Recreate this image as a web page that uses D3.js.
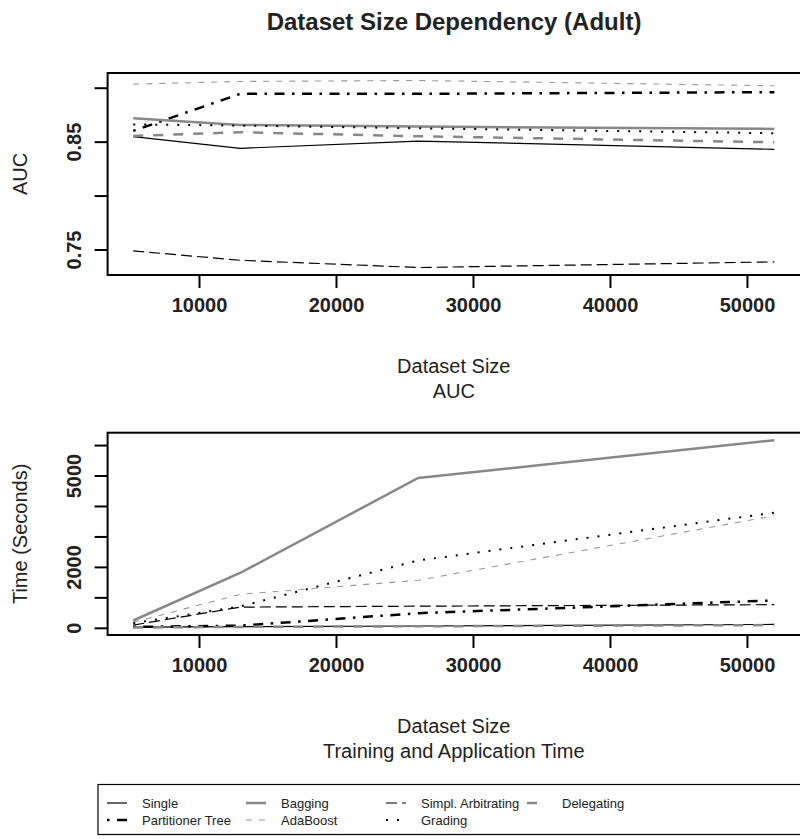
<!DOCTYPE html>
<html>
<head>
<meta charset="utf-8">
<script src="https://cdn.jsdelivr.net/npm/d3@7"></script>
<style>
  body { margin: 0; background: #fff; }
  text { font-family: "Liberation Sans", Arial, Helvetica, sans-serif; fill: #222; }
</style>
</head>
<body>
<div id="chart"></div>
<script>
// Data
let sizes = [5200, 13000, 26000, 52000];
let methods = ['Single', 'Partitioner Tree', 'Bagging', 'AdaBoost', 'Simpl. Arbitrating', 'Grading', 'Delegating'];

let aucSingle      = [0.8546, 0.8438, 0.8505, 0.8429];
let aucPartitioner = [0.8600, 0.8943, 0.8943, 0.8959];
let aucBagging     = [0.8717, 0.8655, 0.8640, 0.8618];
let aucAdaBoost    = [0.9033, 0.9058, 0.9067, 0.9018];
let aucSimpl       = [0.7487, 0.7400, 0.7333, 0.7385];
let aucGrading     = [0.8660, 0.8649, 0.8624, 0.8578];
let aucDelegating  = [0.8553, 0.8587, 0.8550, 0.8494];

let timeSingle      = [20, 40, 60, 110];
let timePartitioner = [30, 70, 480, 900];
let timeBagging     = [240, 1800, 4920, 6160];
let timeAdaBoost    = [180, 1100, 1560, 3680];
let timeSimpl       = [90, 680, 710, 760];
let timeGrading     = [150, 700, 2210, 3780];
let timeDelegating  = [10, 30, 50, 90];

let xTicks = [10000, 20000, 30000, 40000, 50000];
let aucTicks = [0.75, 0.80, 0.85, 0.90];
let aucLabels = ['0.75', '', '0.85', ''];
let timeTicks = [0, 1000, 2000, 3000, 4000, 5000, 6000];
let timeLabels = ['0', '', '2000', '', '', '5000', ''];

// line styles per method
let styles = {
	'Single':             {color: '#000', width: 1.2, dash: null},
	'Partitioner Tree':   {color: '#000', width: 2.5, dash: '2.5,7.5,10,7.5'},
	'Bagging':            {color: '#888', width: 2.5, dash: null},
	'AdaBoost':           {color: '#999', width: 1.1, dash: '6,7'},
	'Simpl. Arbitrating': {color: '#000', width: 1.2, dash: '11,5'},
	'Grading':            {color: '#000', width: 2,   dash: '2,9'},
	'Delegating':         {color: '#888', width: 2.5, dash: '10,10'}
};

let width = 800;
let height = 839;

let svg = d3.select('#chart')
	.append('svg')
	.attr('width', width)
	.attr('height', height);

// title
svg.append('text')
	.attr('x', 454)
	.attr('y', 30)
	.attr('text-anchor', 'middle')
	.attr('font-size', 24)
	.attr('font-weight', 'bold')
	.text('Dataset Size Dependency (Adult)');

// R style axis range: data range padded by 4%
function pad(vals) {
	let lo = d3.min(vals), hi = d3.max(vals);
	let d = (hi - lo) * 0.04;
	return [lo - d, hi + d];
}

function panel(top, bottom, series, ticks, labels, yTitle, subTitle) {
	let left = 107.6, right = 800;
	let x = d3.scaleLinear().domain(pad(sizes)).range([left, right]);
	let allVals = [].concat(...series);
	let y = d3.scaleLinear().domain(pad(allVals)).range([bottom, top]);

	// x axis
	let xa = svg.append('g')
		.attr('transform', 'translate(0,' + bottom + ')')
		.call(d3.axisBottom(x).tickValues(xTicks).tickSize(13).tickPadding(10).tickFormat(d3.format('d')));
	xa.select('.domain').remove();
	xa.selectAll('line').attr('stroke', '#000').attr('stroke-width', 2);
	xa.selectAll('text')
		.attr('font-size', 20)
		.attr('font-weight', 'bold')
		.attr('fill', '#222')
		.attr('font-family', '"Liberation Sans", Arial, sans-serif');

	// y axis
	let ya = svg.append('g')
		.attr('transform', 'translate(' + left + ',0)')
		.call(d3.axisLeft(y).tickValues(ticks).tickSize(13).tickFormat(function(d, i) { return labels[i]; }));
	ya.select('.domain').remove();
	ya.selectAll('line').attr('stroke', '#000').attr('stroke-width', 2);
	ya.selectAll('text')
		.attr('transform', 'rotate(-90)')
		.attr('x', 0)
		.attr('y', -27)
		.attr('dy', 0)
		.attr('text-anchor', 'middle')
		.attr('font-size', 20)
		.attr('font-weight', 'bold')
		.attr('fill', '#222')
		.attr('font-family', '"Liberation Sans", Arial, sans-serif');

	// lines
	let line = d3.line()
		.x(function(d, i) { return x(sizes[i]); })
		.y(function(d) { return y(d); });
	for (let i = 0; i < methods.length; i++) {
		let s = styles[methods[i]];
		svg.append('path')
			.datum(series[i])
			.attr('fill', 'none')
			.attr('stroke', s.color)
			.attr('stroke-width', s.width)
			.attr('stroke-dasharray', s.dash)
			.attr('d', line);
	}

	// box
	svg.append('rect')
		.attr('x', left)
		.attr('y', top)
		.attr('width', right - left + 2)
		.attr('height', bottom - top)
		.attr('fill', 'none')
		.attr('stroke', '#000')
		.attr('stroke-width', 2);

	// axis titles
	svg.append('text')
		.attr('transform', 'translate(26.7,' + (top + bottom) / 2 + ') rotate(-90)')
		.attr('text-anchor', 'middle')
		.attr('font-size', 20)
		.text(yTitle);
	svg.append('text')
		.attr('x', (left + right) / 2)
		.attr('y', bottom + 98)
		.attr('text-anchor', 'middle')
		.attr('font-size', 20)
		.text('Dataset Size');
	svg.append('text')
		.attr('x', (left + right) / 2)
		.attr('y', bottom + 123)
		.attr('text-anchor', 'middle')
		.attr('font-size', 20)
		.text(subTitle);
}

panel(73, 275,
	[aucSingle, aucPartitioner, aucBagging, aucAdaBoost, aucSimpl, aucGrading, aucDelegating],
	aucTicks, aucLabels, 'AUC', 'AUC');

panel(432.7, 635,
	[timeSingle, timePartitioner, timeBagging, timeAdaBoost, timeSimpl, timeGrading, timeDelegating],
	timeTicks, timeLabels, 'Time (Seconds)', 'Training and Application Time');

// Legend: four columns, two rows
let legendText = [142, 281, 421, 562];
let legendOrder = [['Single', 'Partitioner Tree'], ['Bagging', 'AdaBoost'], ['Simpl. Arbitrating', 'Grading'], ['Delegating']];

svg.append('rect')
	.attr('x', 98)
	.attr('y', 784.5)
	.attr('width', 720)
	.attr('height', 50)
	.attr('fill', 'none')
	.attr('stroke', '#000')
	.attr('stroke-width', 1.2);

for (let c = 0; c < legendOrder.length; c++) {
	for (let r = 0; r < legendOrder[c].length; r++) {
		let name = legendOrder[c][r];
		let s = styles[name];
		let ly = 803 + r * 17;
		svg.append('line')
			.attr('x1', legendText[c] - 35)
			.attr('x2', legendText[c] - 15)
			.attr('y1', ly)
			.attr('y2', ly)
			.attr('stroke', s.color)
			.attr('stroke-width', s.width)
			.attr('stroke-dasharray', s.dash);
		svg.append('text')
			.attr('x', legendText[c])
			.attr('y', ly + 5)
			.attr('font-size', 13)
			.text(name);
	}
}
</script>
</body>
</html>
